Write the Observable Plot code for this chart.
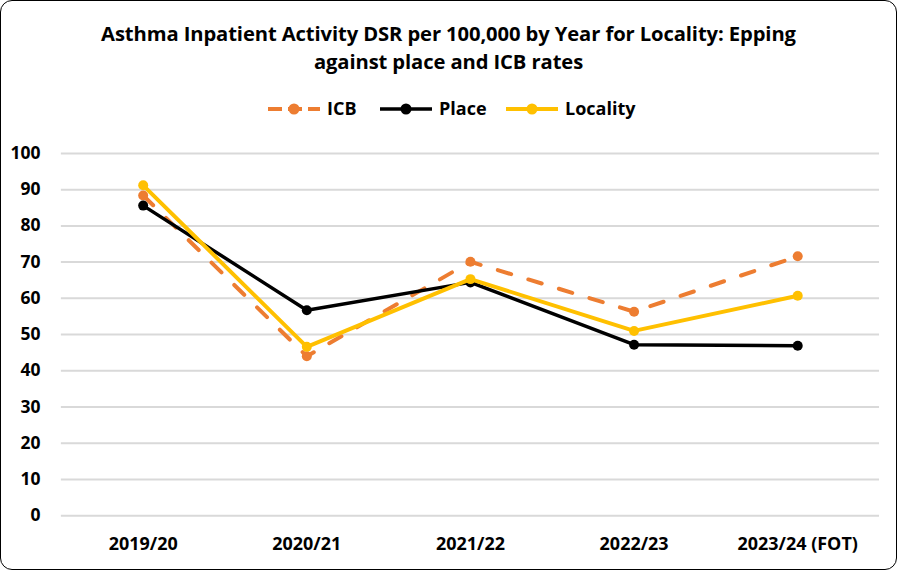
<!DOCTYPE html>
<html><head><meta charset="utf-8">
<script src="https://cdn.jsdelivr.net/npm/d3@7"></script>
<script src="https://cdn.jsdelivr.net/npm/@observablehq/plot@0.6"></script>
<style>
html,body{margin:0;padding:0;background:#fff;}
#chart{position:relative;width:895px;height:568px;border:1px solid #000;border-radius:12px;overflow:hidden;background:#fff;font-family:"Open Sans",sans-serif;}
#title{position:absolute;top:18px;left:0;width:895px;text-align:center;font-weight:bold;font-size:20.2px;line-height:28px;color:#000;letter-spacing:-0.1px;}
#legend{position:absolute;top:94px;left:0;width:895px;height:28px;}
#plot{position:absolute;top:129px;left:0;}
</style></head>
<body>
<div id="chart">
  <div id="title">Asthma Inpatient Activity DSR per 100,000 by Year for Locality: Epping<br>against place and ICB rates</div>
  <svg id="legend" width="895" height="28"></svg>
  <div id="plot"></div>
</div>
<script>
const years = ["2019/20","2020/21","2021/22","2022/23","2023/24 (FOT)"];
const icb = [88.4, 44.0, 70.1, 56.3, 71.6];
const place = [85.6, 56.7, 64.4, 47.2, 46.9];
const locality = [91.2, 46.6, 65.3, 51.0, 60.7];
const yTicks = [0,10,20,30,40,50,60,70,80,90,100];
const seriesNames = ["ICB","Place","Locality"];
const seriesColors = ["#ED7D31","#000000","#FFC000"];

const rows = (name, vals) => years.map((y,i)=>({year:y, value:vals[i], series:name}));
const icbRows = rows("ICB", icb), placeRows = rows("Place", place), locRows = rows("Locality", locality);

const chart = Plot.plot({
  width: 897, height: 440,
  marginTop: 23, marginBottom: 54, marginLeft: 60, marginRight: 17,
  style: {fontFamily: "'Open Sans', sans-serif", background: "transparent", overflow: "visible"},
  x: {type: "point", domain: years, padding: 0.5, label: null},
  y: {domain: [0,100], label: null, ticks: yTicks},
  marks: [
    Plot.ruleY(yTicks, {stroke: "#d9d9d9", strokeWidth: 2}),
    Plot.axisY({ticks: yTicks, tickSize: 0, tickPadding: 21, fontSize: 17.5, fontWeight: "bold", fill: "#000", label: null}),
    Plot.axisX({tickSize: 0, tickPadding: 22, fontSize: 18, fontWeight: "bold", fill: "#000", label: null}),
    Plot.line(icbRows, {x: "year", y: "value", stroke: seriesColors[0], strokeWidth: 4, strokeDasharray: "14,18", strokeLinecap: "round", strokeLinejoin: "round"}),
    Plot.dot(icbRows, {x: "year", y: "value", r: 5, fill: seriesColors[0]}),
    Plot.line(placeRows, {x: "year", y: "value", stroke: seriesColors[1], strokeWidth: 3.5, strokeLinejoin: "round"}),
    Plot.dot(placeRows, {x: "year", y: "value", r: 5, fill: seriesColors[1]}),
    Plot.line(locRows, {x: "year", y: "value", stroke: seriesColors[2], strokeWidth: 4, strokeLinejoin: "round"}),
    Plot.dot(locRows, {x: "year", y: "value", r: 5, fill: seriesColors[2]})
  ]
});
document.getElementById("plot").appendChild(chart);

// legend
const lg = d3.select("#legend");
const items = [
  {name: seriesNames[0], color: seriesColors[0], x0: 267, dash: "14,6", w: 4},
  {name: seriesNames[1], color: seriesColors[1], x0: 379, dash: null, w: 3.5},
  {name: seriesNames[2], color: seriesColors[2], x0: 505, dash: null, w: 4}
];
items.forEach(it => {
  const g = lg.append("g");
  g.append("line").attr("x1", it.x0).attr("x2", it.x0+52).attr("y1", 14).attr("y2", 14)
    .attr("stroke", it.color).attr("stroke-width", it.w).attr("stroke-dasharray", it.dash);
  g.append("circle").attr("cx", it.x0+26).attr("cy", 14).attr("r", 5.5).attr("fill", it.color);
  g.append("text").attr("x", it.x0+59).attr("y", 14).attr("dy", "0.35em")
    .attr("font-size", 18).attr("font-weight", "bold").attr("font-family", "'Open Sans', sans-serif")
    .attr("fill", "#000").text(it.name);
});
</script>
</body></html>
